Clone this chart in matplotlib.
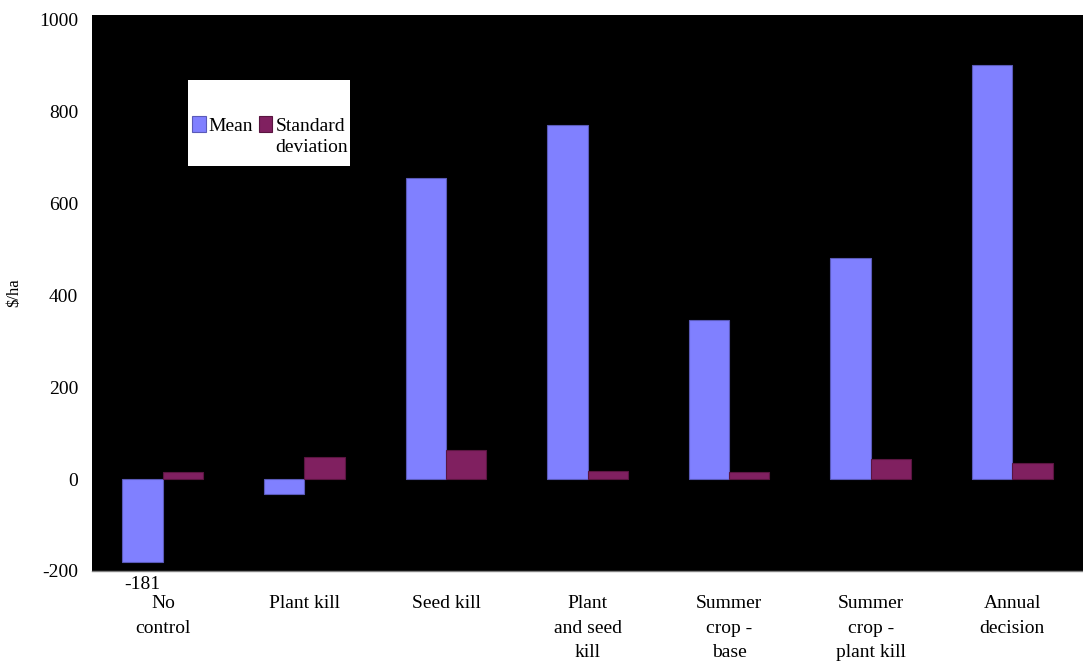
import numpy as np
import matplotlib
matplotlib.use("Agg")
import matplotlib.pyplot as plt
from matplotlib.patches import Rectangle

plt.rcParams.update({
    "font.family": "serif",
    "font.serif": ["Liberation Serif", "Times New Roman", "DejaVu Serif"],
    "axes.unicode_minus": False,
})

categories = ["No\ncontrol", "Plant kill", "Seed kill", "Plant\nand seed\nkill",
              "Summer\ncrop -\nbase", "Summer\ncrop -\nplant kill", "Annual\ndecision"]
mean_vals = [-181, -33, 656, 770, 346, 480, 902]
sd_vals = [15, 49, 63, 17, 15, 43, 34]

MEAN_COLOR = "#8080FF"
SD_COLOR = "#802060"
BAR_W = 0.285
FS = 14

fig = plt.figure(figsize=(10.83, 6.62), dpi=100)
ax = fig.add_axes([0.085, 0.1375, 0.915, 0.84])
ax.set_facecolor("black")

x = np.arange(len(categories))
ax.bar(x - BAR_W / 2, mean_vals, BAR_W, color=MEAN_COLOR, edgecolor="#5a5ab8",
       linewidth=0.8, label="Mean", zorder=3)
ax.bar(x + BAR_W / 2, sd_vals, BAR_W, color=SD_COLOR, edgecolor="#5a1540",
       linewidth=0.8, label="Standard", zorder=3)

# value label under the negative "No control" bar
ax.annotate(f"{mean_vals[0]}", xy=(x[0] - BAR_W / 2, mean_vals[0]),
            xytext=(0, -10), textcoords="offset points", ha="center", va="top",
            fontsize=FS, annotation_clip=False)

ax.set_xlim(-0.5, len(categories) - 0.5)
ax.set_ylim(-200, 1010)
ax.set_yticks(np.arange(-200, 1001, 200))
ax.tick_params(axis="y", length=0, pad=10, labelsize=FS)
ax.set_xticks(x)
ax.set_xticklabels(categories, fontsize=FS, linespacing=1.58)
ax.tick_params(axis="x", length=0, pad=17.5)
ax.set_ylabel("\\$/ha", fontsize=12, labelpad=12)

for side in ["top", "right", "left"]:
    ax.spines[side].set_visible(False)
ax.spines["bottom"].set_color("#808080")
ax.spines["bottom"].set_linewidth(1.0)

# white legend panel
ax.add_patch(Rectangle((0.097, 0.728), 0.163, 0.155, transform=ax.transAxes,
                       facecolor="white", edgecolor="none", zorder=4))
leg = ax.legend(loc="upper left", bbox_to_anchor=(0.093, 0.832), ncol=2,
                frameon=False, fontsize=FS, handlelength=0.7, handleheight=0.9,
                handletextpad=0.15, columnspacing=0.3, borderaxespad=0)
leg.set_zorder(5)
# second line of the "Standard deviation" entry
ax.annotate("deviation", xy=(0, 0), xycoords=leg.get_texts()[1],
            xytext=(0, -3), textcoords="offset points", ha="left", va="top",
            fontsize=FS, zorder=6)

fig.savefig("out.png", dpi=100)
